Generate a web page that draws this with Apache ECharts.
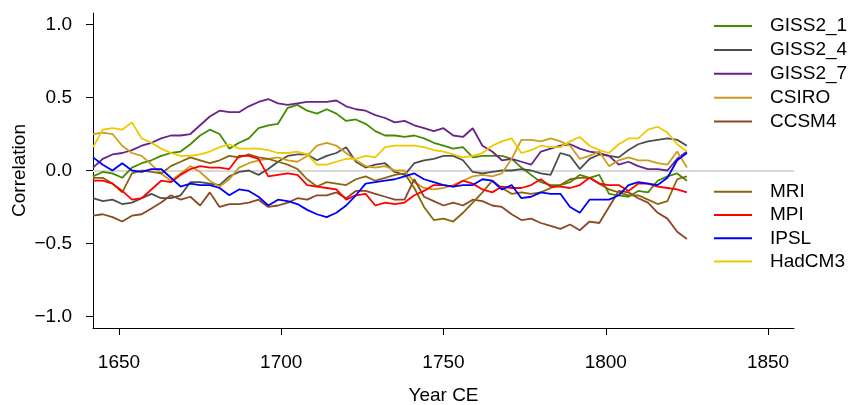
<!DOCTYPE html>
<html>
<head>
<meta charset="utf-8">
<script src="https://cdn.jsdelivr.net/npm/echarts@6/dist/echarts.min.js"></script>
<style>
  html, body { margin: 0; padding: 0; background: #fff; }
  #chart { width: 857px; height: 405px; }
</style>
</head>
<body>
<div id="chart"></div>
<script>
// years every 3 years, 1642 .. 1825
const years = [1642,1645,1648,1651,1654,1657,1660,1663,1666,1669,1672,1675,1678,1681,1684,1687,
  1690,1693,1696,1699,1702,1705,1708,1711,1714,1717,1720,1723,1726,1729,1732,1735,
  1738,1741,1744,1747,1750,1753,1756,1759,1762,1765,1768,1771,1774,1777,1780,1783,
  1786,1789,1792,1795,1798,1801,1804,1807,1810,1813,1816,1819,1822,1825]

const giss21 = [-0.04,-0.01,-0.02,-0.05,0.02,0.05,0.07,0.10, 0.12,0.13,0.18,0.24,0.28,0.25,0.15,0.19,
  0.22,0.29,0.31,0.32,0.43,0.45,0.41,0.39, 0.42,0.39,0.34,0.35,0.32,0.27,0.24,0.24,
  0.23,0.24,0.22,0.19,0.17,0.15,0.16,0.09, 0.10,0.10,0.10,0.08,0.02,-0.03,-0.08,-0.10,
  -0.10,-0.08,-0.03,-0.05,-0.03,-0.16,-0.17,-0.18, -0.14,-0.15,-0.07,-0.04,-0.02,-0.07]
const giss24 = [-0.19,-0.21,-0.20,-0.23,-0.22,-0.19,-0.16,-0.19, -0.19,-0.17,-0.08,-0.08,-0.09,-0.10,-0.04,-0.01,
  0.00,-0.03,0.01,0.06,0.10,0.11,0.11,0.07, 0.10,0.12,0.16,0.06,0.02,0.04,0.05,-0.01,
  -0.03,0.05,0.07,0.08,0.10,0.10,0.07,-0.01, -0.02,-0.01,0.00,0.00,0.01,0.00,-0.02,-0.03,
  0.12,0.10,0.01,0.08,0.11,0.10,0.09,0.14, 0.18,0.20,0.21,0.22,0.21,0.17]
const giss27 = [0.02,0.08,0.11,0.12,0.14,0.17,0.19,0.22, 0.24,0.24,0.25,0.31,0.37,0.41,0.40,0.40,
  0.44,0.47,0.49,0.46,0.45,0.46,0.47,0.47, 0.47,0.48,0.44,0.42,0.41,0.38,0.36,0.33,
  0.34,0.31,0.29,0.27,0.29,0.24,0.23,0.29, 0.17,0.13,0.07,0.08,0.06,0.04,0.13,0.15,
  0.17,0.18,0.15,0.13,0.12,0.10,0.04,0.06, 0.03,0.01,0.01,0.00,0.08,0.13]
const csiro = [0.25,0.26,0.25,0.17,0.12,0.10,0.04,-0.02, -0.07,-0.02,0.03,-0.01,-0.07,-0.11,-0.06,0.02,
  0.05,0.07,0.08,0.09,0.07,0.06,0.10,0.17, 0.19,0.17,0.12,0.07,0.03,0.02,0.03,0.00,
  0.00,-0.08,-0.12,-0.13,-0.12,-0.10,-0.07,-0.04, -0.03,-0.04,-0.02,0.08,0.21,0.21,0.20,0.22,
  0.20,0.17,0.08,0.10,0.13,0.03,0.07,0.09, 0.07,0.07,0.05,0.04,0.13,0.02]
const ccsm4 = [-0.31,-0.30,-0.32,-0.35,-0.31,-0.30,-0.26,-0.22, -0.17,-0.20,-0.18,-0.24,-0.15,-0.25,-0.23,-0.23,
  -0.22,-0.20,-0.25,-0.24,-0.22,-0.19,-0.20,-0.17, -0.17,-0.15,-0.19,-0.14,-0.14,-0.16,-0.18,-0.20,
  -0.20,-0.06,-0.18,-0.21,-0.24,-0.22,-0.24,-0.20, -0.21,-0.24,-0.25,-0.30,-0.34,-0.33,-0.36,-0.38,
  -0.40,-0.37,-0.41,-0.35,-0.36,-0.25,-0.14,-0.15, -0.19,-0.22,-0.29,-0.33,-0.42,-0.47]
const mri = [-0.05,-0.05,-0.09,-0.15,-0.02,0.00,-0.01,-0.02, 0.03,0.06,0.09,0.07,0.05,0.07,0.10,0.09,
  0.11,0.09,0.08,0.06,0.04,0.01,-0.06,-0.11, -0.08,-0.09,-0.10,-0.06,-0.04,-0.07,-0.05,-0.03,
  -0.02,-0.12,-0.25,-0.34,-0.33,-0.35,-0.29,-0.22, -0.15,-0.07,-0.12,-0.16,-0.15,-0.16,-0.15,-0.12,
  -0.10,-0.06,-0.05,-0.05,-0.09,-0.13,-0.15,-0.17, -0.17,-0.20,-0.23,-0.21,-0.06,-0.04]
const mpi = [-0.07,-0.07,-0.09,-0.14,-0.20,-0.19,-0.13,-0.07, -0.08,-0.03,0.01,0.03,0.02,0.02,0.01,0.10,
  0.10,0.08,-0.04,-0.03,-0.02,-0.03,-0.10,-0.11, -0.12,-0.13,-0.20,-0.17,-0.16,-0.24,-0.22,-0.23,
  -0.22,-0.17,-0.14,-0.10,-0.10,-0.11,-0.07,-0.09, -0.13,-0.15,-0.11,-0.12,-0.12,-0.10,-0.06,-0.11,
  -0.11,-0.12,-0.10,-0.05,-0.09,-0.10,-0.10,-0.14, -0.09,-0.09,-0.11,-0.12,-0.13,-0.15]
const ipsl = [0.09,0.04,0.00,0.05,0.00,-0.01,0.01,0.01, -0.05,-0.11,-0.09,-0.10,-0.10,-0.12,-0.17,-0.13,
  -0.14,-0.18,-0.24,-0.20,-0.21,-0.23,-0.27,-0.30, -0.32,-0.29,-0.24,-0.17,-0.09,-0.08,-0.07,-0.06,
  -0.04,-0.02,-0.06,-0.08,-0.10,-0.11,-0.10,-0.10, -0.06,-0.07,-0.13,-0.10,-0.19,-0.18,-0.15,-0.16,
  -0.16,-0.25,-0.29,-0.20,-0.20,-0.20,-0.17,-0.10, -0.08,-0.09,-0.10,-0.05,0.07,0.12]
const hadcm3 = [0.16,0.28,0.29,0.28,0.33,0.22,0.19,0.15, 0.12,0.10,0.10,0.11,0.13,0.16,0.18,0.15,
  0.15,0.15,0.14,0.12,0.12,0.13,0.11,0.04, 0.04,0.06,0.08,0.08,0.10,0.09,0.16,0.17,
  0.17,0.17,0.16,0.14,0.13,0.11,0.09,0.10, 0.12,0.17,0.20,0.22,0.12,0.14,0.17,0.16,
  0.16,0.20,0.23,0.17,0.14,0.12,0.18,0.22, 0.22,0.28,0.30,0.26,0.18,0.13]

const names1 = ['GISS2_1', 'GISS2_4', 'GISS2_7', 'CSIRO', 'CCSM4']
const names2 = ['MRI', 'MPI', 'IPSL', 'HadCM3']
const yTicks = [-1, -0.5, 0, 0.5, 1]
const xTicks = [1650, 1700, 1750, 1800, 1850]

const models = [
  { name: 'GISS2_1', values: giss21, color: '#458B00' },
  { name: 'GISS2_4', values: giss24, color: '#4D4D4D' },
  { name: 'GISS2_7', values: giss27, color: '#68228B' },
  { name: 'CSIRO', values: csiro, color: '#CD9B1D' },
  { name: 'CCSM4', values: ccsm4, color: '#8B4726' },
  { name: 'MRI', values: mri, color: '#8B6508' },
  { name: 'MPI', values: mpi, color: '#FF0000' },
  { name: 'IPSL', values: ipsl, color: '#0000FF' },
  { name: 'HadCM3', values: hadcm3, color: '#EEC900' }
]

const font = 'Liberation Sans, Arial, Helvetica, sans-serif'
const fs = 19

let myChart = echarts.init(document.getElementById('chart'))

let series = models.map(function (m, i) {
  let s = {
    name: m.name,
    type: 'line',
    data: years.map((y, k) => [y, m.values[k]]),
    showSymbol: false,
    symbol: 'none',
    z: 3,
    color: m.color,
    lineStyle: { color: m.color, width: 1.8 },
    emphasis: { disabled: true }
  }
  if (i === 0) {
    s.markLine = {
      silent: true,
      symbol: 'none',
      z: 1,
      label: { show: false },
      lineStyle: { color: '#d9d9d9', width: 2, type: 'solid' },
      data: [{ yAxis: 0 }]
    }
  }
  return s
})

const legendBase = {
  orient: 'vertical',
  left: 714,
  padding: 0,
  icon: 'rect',
  itemWidth: 38,
  itemHeight: 2,
  textStyle: { fontSize: fs, fontFamily: font, color: '#000', lineHeight: fs, padding: [0, 0, 0, 13] }
}

let option = {
  animation: false,
  backgroundColor: '#fff',
  grid: { left: 93, right: 63, top: 13, bottom: 77, containLabel: false, outerBoundsMode: 'none' },
  legend: [
    Object.assign({}, legendBase, { data: names1, top: 16.5, itemGap: 4.9 }),
    Object.assign({}, legendBase, { data: names2, top: 182.2, itemGap: 4.3 })
  ],
  xAxis: {
    type: 'value',
    min: 1642,
    max: 1858,
    name: 'Year CE',
    nameLocation: 'middle',
    nameGap: 58,
    nameTextStyle: { fontSize: fs, fontFamily: font, color: '#000' },
    axisLine: { onZero: false, lineStyle: { color: '#000', width: 1 } },
    axisTick: { customValues: xTicks, length: 7, lineStyle: { color: '#000' } },
    axisLabel: {
      customValues: xTicks, margin: 25, fontSize: fs, fontFamily: font, color: '#000',
      formatter: function (v) { return String(v) }
    },
    splitLine: { show: false }
  },
  yAxis: {
    type: 'value',
    min: -1.08,
    max: 1.08,
    name: 'Correlation',
    nameLocation: 'middle',
    nameGap: 64,
    nameMoveOverlap: false,
    nameTextStyle: { fontSize: fs, fontFamily: font, color: '#000' },
    axisLine: { show: true, lineStyle: { color: '#000', width: 1 } },
    axisTick: { show: true, customValues: yTicks, length: 7, lineStyle: { color: '#000' } },
    axisLabel: {
      customValues: yTicks,
      margin: 21,
      fontSize: fs,
      fontFamily: font,
      color: '#000',
      formatter: function (v) {
        return (v < 0 ? '\u2212' : '') + Math.abs(v).toFixed(1)
      }
    },
    splitLine: { show: false }
  },
  series: series
}

myChart.setOption(option)
</script>
</body>
</html>
